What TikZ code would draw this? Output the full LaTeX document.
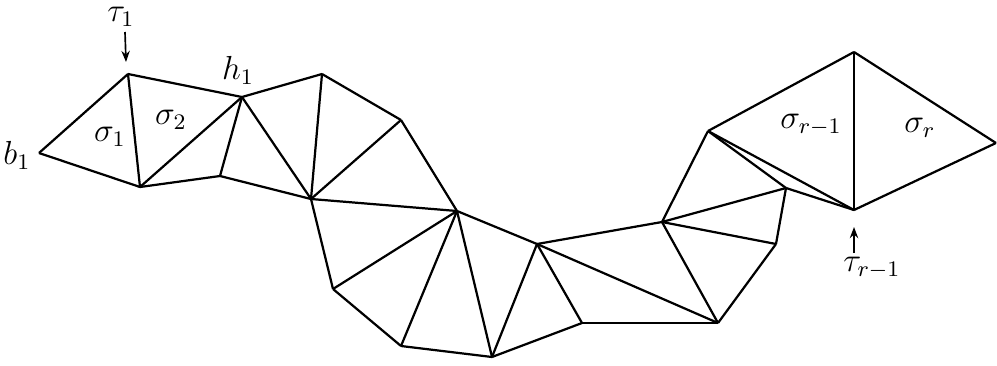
\documentclass[tikz,border=0pt]{standalone}
\usetikzlibrary{arrows.meta}
\begin{document}
\begin{tikzpicture}[x=0.36pt,y=-0.36pt,
  edge/.style={line width=0.8pt,line join=round},
  ptr/.style={line width=0.6pt,-{Stealth[length=4pt,width=3pt]}},
  lab/.style={inner sep=0pt,font=\large}]
\useasboundingbox (0,0) rectangle (997,365);
\coordinate (b1) at (39,153);
\coordinate (T) at (128,74);
\coordinate (A) at (140,187);
\coordinate (h1) at (242,97);
\coordinate (C) at (220,176);
\coordinate (D) at (322,74);
\coordinate (E) at (311,199);
\coordinate (F) at (401,120);
\coordinate (G) at (457,211);
\coordinate (H) at (333,289);
\coordinate (I) at (401,346);
\coordinate (J) at (492,357);
\coordinate (K) at (537,244);
\coordinate (L) at (582,323);
\coordinate (N) at (718,323);
\coordinate (M) at (662,222);
\coordinate (O) at (708,131);
\coordinate (P) at (786,188);
\coordinate (Q) at (776,244);
\coordinate (S) at (854,52);
\coordinate (R) at (854,210);
\coordinate (V) at (996,143);
\foreach \u/\v in {b1/T,b1/A,T/A,T/h1,A/h1,A/C,C/h1,h1/D,h1/E,C/E,D/E,D/F,F/E,F/G,E/G,E/H,G/H,H/I,G/I,I/J,G/J,G/K,J/K,K/L,J/L,K/M,K/N,L/N,M/N,N/Q,M/Q,M/P,P/Q,M/O,O/P,O/R,P/R,O/S,S/R,S/V,V/R}
  \draw[edge] (\u) -- (\v);
\node[lab] (tau1) at (121,17) {$\tau_1$};
\coordinate (tau1a) at (125,32);
\coordinate (tau1b) at (126,62);
\draw[ptr] (tau1a) -- (tau1b);
\node[lab] (h1l) at (238,70) {$h_1$};
\node[lab] (b1l) at (17,155) {$b_1$};
\node[lab] (s1) at (110,137) {$\sigma_1$};
\node[lab] (s2) at (171,120) {$\sigma_2$};
\node[lab] (srm) at (811,125) {$\sigma_{r-1}$};
\node[lab] (sr) at (920,128) {$\sigma_r$};
\node[lab] (taur) at (872,268) {$\tau_{r-1}$};
\coordinate (taura) at (854,253);
\coordinate (taurb) at (854,227);
\draw[ptr] (taura) -- (taurb);
\end{tikzpicture}
\end{document}
